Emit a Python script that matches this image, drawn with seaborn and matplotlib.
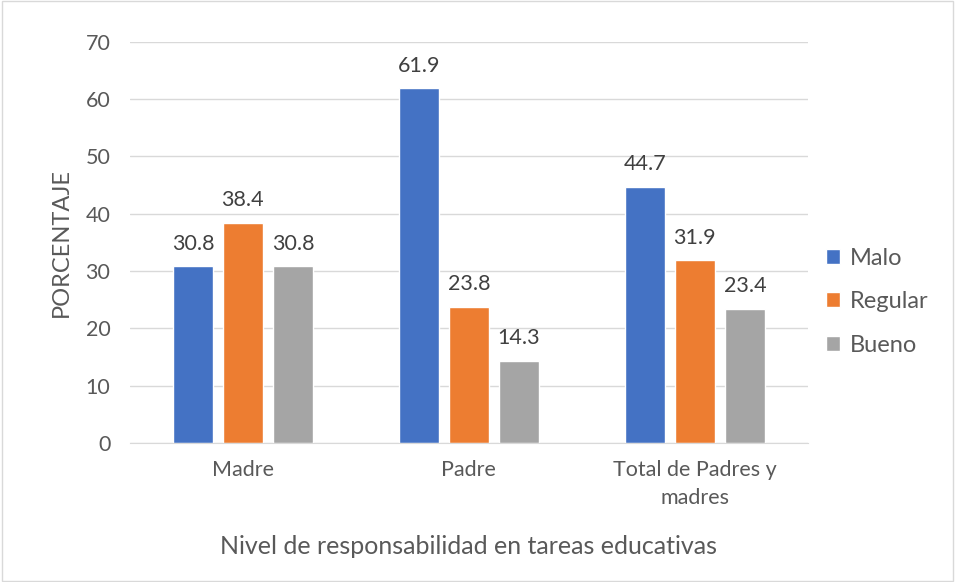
import matplotlib
matplotlib.use("Agg")
import matplotlib.pyplot as plt
import pandas as pd
import seaborn as sns

# Data
categorias = ["Madre", "Padre", "Total de Padres y\nmadres"]
niveles = ["Malo", "Regular", "Bueno"]
malo = [30.8, 61.9, 44.7]
regular = [38.4, 23.8, 31.9]
bueno = [30.8, 14.3, 23.4]

colores = ["#4472C4", "#ED7D31", "#A5A5A5"]

df = pd.DataFrame({
    "categoria": categorias * 3,
    "nivel": [n for n in niveles for _ in categorias],
    "valor": malo + regular + bueno,
})

sns.set_style("white")
plt.rcParams["font.family"] = ["Lato", "DejaVu Sans"]

fig = plt.figure(figsize=(9.55, 5.82), dpi=100)
ax = fig.add_axes([0.136, 0.239, 0.710, 0.689])

sns.barplot(data=df, x="categoria", y="valor", hue="nivel", order=categorias,
            hue_order=niveles, palette=colores, saturation=1, width=0.664, gap=0.2, ax=ax)

# value labels
for cont in ax.containers:
    ax.bar_label(cont, fmt="%.1f", padding=9, fontsize=15.5, color="#404040")

ax.set_ylim(0, 70)
ax.set_yticks(range(0, 71, 10))
ax.yaxis.grid(True, color="#D9D9D9", linewidth=1)
ax.set_axisbelow(True)
for s in ["top", "right", "left"]:
    ax.spines[s].set_visible(False)
ax.spines["bottom"].set_color("#D9D9D9")
ax.tick_params(axis="y", length=0, labelsize=15.5, colors="#595959", pad=14)
ax.tick_params(axis="x", length=0, labelsize=15.5, colors="#595959", pad=12)
for t in ax.get_xticklabels():
    t.set_linespacing(1.5)

ax.set_xlim(-0.5, 2.5)

ax.set_ylabel("PORCENTAJE", fontsize=17, color="#595959", labelpad=10)
ax.set_xlabel("Nivel de responsabilidad en tareas educativas", fontsize=18,
              color="#595959", labelpad=20)

ax.legend(loc="center left", bbox_to_anchor=(0.995, 0.352), frameon=False,
          fontsize=17, labelcolor="#595959", handlelength=0.6, handleheight=0.6,
          labelspacing=0.95, handletextpad=0.4)

# light frame around the chart area
fig.patches.append(plt.Rectangle((0.002, 0.002), 0.996, 0.996, transform=fig.transFigure,
                                 fill=False, edgecolor="#D9D9D9", linewidth=1))

fig.savefig("out.png", dpi=100)
